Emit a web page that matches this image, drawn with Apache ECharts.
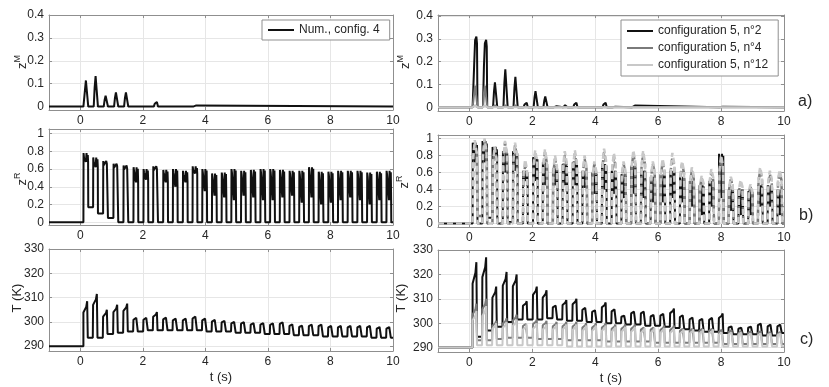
<!DOCTYPE html>
<html>
<head>
<meta charset="utf-8">
<script src="https://cdn.jsdelivr.net/npm/echarts@6/dist/echarts.min.js"></script>
<style>
  html, body { margin: 0; padding: 0; background: #fff; }
  #chart { width: 829px; height: 387px; }
</style>
</head>
<body>
<div id="chart"></div>
<script>
// time of each heating pulse maximum (s)
const peakTimes = [0.22, 0.53, 0.85, 1.18, 1.50, 1.82, 2.14, 2.45, 2.77, 3.08, 3.40, 3.71, 4.02, 4.33, 4.64, 4.95,
  5.26, 5.57, 5.88, 6.19, 6.50, 6.81, 7.12, 7.43, 7.74, 8.05, 8.36, 8.67, 8.98, 9.29, 9.60, 9.91];

// left column : Num., config. 4
const zmCfg4 = [0.12, 0.14, 0.05, 0.065, 0.065, 0, 0, 0.02, 0, 0, 0, 0.005, 0, 0, 0, 0,
  0, 0, 0, 0, 0, 0, 0, 0, 0, 0, 0, 0, 0, 0, 0, 0];
const zrCfg4Peak = [0.78, 0.73, 0.69, 0.66, 0.64, 0.62, 0.60, 0.63, 0.59, 0.60, 0.58, 0.63, 0.60, 0.55, 0.56, 0.60,
  0.58, 0.59, 0.60, 0.60, 0.59, 0.58, 0.58, 0.62, 0.57, 0.57, 0.58, 0.58, 0.58, 0.56, 0.57, 0.58];
const zrCfg4Dip = [0.68, 0.62, 0.66, 0.63, 0.60, 0.45, 0.48, 0.60, 0.45, 0.40, 0.45, 0.55, 0.35, 0.30, 0.28, 0.25,
  0.30, 0.28, 0.25, 0.25, 0.28, 0.30, 0.22, 0.28, 0.20, 0.22, 0.25, 0.28, 0.25, 0.20, 0.25, 0.25];
const zrCfg4Base = [0.17, 0.10, 0.05];
const tCfg4Peak = [308.5, 311.5, 305, 307, 307.5, 302.5, 302.5, 304, 302.5, 302, 302, 303, 302, 301.5, 301, 300.5,
  300.5, 300, 300, 300, 300.5, 299.5, 299, 299.5, 299.5, 299, 299, 299, 299, 299, 298.5, 298.5];
const tCfg4Trough = [293.5, 293.5, 295, 295.5, 296, 296, 296.5, 296.5, 296.5, 296.5, 296.5, 296.5, 296, 296, 296, 295.5,
  295.5, 295.5, 295, 295, 295, 294.5, 294.5, 294.5, 294, 294, 294, 294, 294, 293.5, 293.5, 293.5];

// right column : configuration 5, n°2 / n°4 / n°12
const zmN2 = [0.31, 0.295, 0.115, 0.175, 0.14, 0.02, 0.075, 0.05, 0.005, 0.01, 0.02, 0, 0, 0.02, 0.003, 0,
  0.008, 0, 0, 0, 0, 0, 0, 0, 0, 0.003, 0, 0, 0, 0, 0, 0];
const zmN4 = [0.10, 0.10, 0.01, 0.01, 0.01];
const zmN12 = [0.01, 0.01];
const zrN2Peak = [0.95, 0.97, 0.90, 0.85, 0.85, 0.62, 0.78, 0.72, 0.65, 0.70, 0.72, 0.62, 0.60, 0.70, 0.62, 0.58,
  0.68, 0.62, 0.55, 0.58, 0.62, 0.55, 0.50, 0.45, 0.50, 0.82, 0.40, 0.40, 0.38, 0.45, 0.45, 0.40];
const zrN2Dip = [0.72, 0.72, 0.80, 0.60, 0.62, 0.50, 0.50, 0.45, 0.45, 0.45, 0.45, 0.42, 0.35, 0.40, 0.35, 0.30,
  0.35, 0.30, 0.25, 0.25, 0.30, 0.25, 0.20, 0.10, 0.20, 0.30, 0.15, 0.10, 0.10, 0.20, 0.20, 0.10];
const zrN2Base = [0, 0.07, 0, 0.02];
const zrN4Peak = [0.96, 0.98, 0.88, 0.95, 0.92, 0.68, 0.82, 0.84, 0.76, 0.80, 0.82, 0.76, 0.70, 0.84, 0.78, 0.70,
  0.82, 0.82, 0.70, 0.72, 0.78, 0.70, 0.62, 0.53, 0.60, 0.75, 0.52, 0.48, 0.43, 0.62, 0.58, 0.60];
const zrN4Base = [0.09];
const zrN12Peak = [0.98, 1.00, 0.90, 0.97, 0.95, 0.75, 0.86, 0.87, 0.80, 0.85, 0.86, 0.80, 0.73, 0.88, 0.83, 0.73,
  0.86, 0.85, 0.73, 0.76, 0.83, 0.73, 0.66, 0.56, 0.64, 0.80, 0.55, 0.51, 0.46, 0.66, 0.62, 0.63];
const tN2Peak = [325, 327, 315, 321, 320, 309, 315, 313.5, 308, 309.5, 310, 307, 306, 308.5, 306.5, 303.5,
  305.5, 305.5, 304, 304.5, 306, 304, 303, 302.5, 303, 304, 299, 298.5, 299, 300.5, 300, 300];
const tN2Trough = [294.5, 297, 298.5, 300.5, 301.5, 301.5, 301.5, 302, 301.5, 301, 301, 300.5, 300.5, 300, 300, 299.5,
  299.5, 299, 299, 298.5, 298, 297.5, 297, 296.5, 296.5, 296, 295.5, 295.5, 295.5, 295, 295, 296];
const tN4Peak = [308, 310, 301, 302, 303.5, 300.5, 301.5, 301, 300.5, 300.5, 300.5, 300, 300, 300, 299.5, 299.5,
  299.5, 299, 299, 299, 299, 298.5, 298.5, 298.5, 298.5, 298, 298, 297.5, 297.5, 297.5, 297, 297];
const tN4Trough = [293, 293, 293.5, 294, 294, 294, 293.5, 293.5, 293.5, 293, 293, 293, 293, 292.5, 292.5, 292.5,
  292.5, 292.5, 292, 292, 292, 292, 292, 292, 292, 291.5, 291.5, 291.5, 291.5, 291.5, 291.5, 291.5];
const tN12Peak = [305, 307, 300, 300.5, 301.5, 299.5, 300, 299.5, 299.5, 299.5, 299.5, 299, 299, 299, 298.5, 298.5,
  298.5, 298, 298, 298, 298, 297.5, 297.5, 297.5, 297.5, 297, 297, 297, 296.5, 296.5, 296.5, 296.5];
const tN12Trough = [291, 291, 291, 291, 291, 291, 291, 291, 291, 290.5, 290.5, 290.5, 290.5, 290.5, 290.5, 290.5,
  290.5, 290.5, 290.5, 290.5, 290.5, 290.5, 290.5, 290.5, 290.5, 290.5, 290.5, 290.5, 290.5, 290.5, 290.5, 290.5];

const xTicks = [0, 2, 4, 6, 8, 10];
const zmTicks = [0, 0.1, 0.2, 0.3, 0.4];
const zrTicks = [0, 0.2, 0.4, 0.6, 0.8, 1];
const tTicks = [290, 300, 310, 320, 330];

const legendLeft = ['Num., config. 4'];
const legendRight = ['configuration 5, n°2', 'configuration 5, n°4', 'configuration 5, n°12'];

// ---- build the polylines from the pulse values ----
function at(arr, i) { return i < arr.length ? arr[i] : 0; }

function zmLine(peaks) {
  const pts = [[-1, 0], [0.1, 0]];
  peakTimes.forEach((tp, i) => {
    const p = at(peaks, i);
    if (!p) return;
    pts.push([tp - 0.10, 0], [tp - 0.07, p * 0.6], [tp - 0.04, p * 0.95], [tp, p], [tp + 0.02, p * 0.9], [tp + 0.035, 0]);
  });
  pts.push([10, 0]);
  return pts;
}

function zrNoisy(peaks, dips, base) {
  const pts = [[-1, 0], [0.1, 0]];
  let prev = 0;
  peakTimes.forEach((tp, i) => {
    const s = tp - 0.12, p = peaks[i], d = dips[i];
    const b = at(base, i);
    pts.push([s, prev], [s + 0.005, p], [s + 0.02, p * 0.93], [s + 0.06, p * 0.95], [s + 0.08, d],
      [s + 0.1, p], [s + 0.12, d], [s + 0.14, p * 0.97], [tp + 0.03, d], [tp + 0.035, b]);
    prev = b;
  });
  pts.push([10, prev]);
  return pts;
}

function zrSmooth(peaks, base) {
  const pts = [[-1, 0], [0.1, 0]];
  let prev = 0;
  peakTimes.forEach((tp, i) => {
    const s = tp - 0.12, p = peaks[i];
    const b = at(base, i);
    pts.push([s, prev], [s + 0.02, p * 0.8], [s + 0.07, p], [s + 0.13, p * 0.85], [tp + 0.035, b]);
    prev = b;
  });
  pts.push([10, prev]);
  return pts;
}

function tLine(peaks, troughs) {
  const pts = [[-1, 290], [0.1, 290]];
  let prev = 290;
  peakTimes.forEach((tp, i) => {
    const s = tp - 0.13, p = peaks[i], tr = troughs[i];
    const plat = prev + 0.75 * (p - prev);
    pts.push([s, prev], [s + 0.01, plat], [tp - 0.03, plat + 0.5 * (p - plat)], [tp, p], [tp + 0.02, tr]);
    prev = tr;
  });
  pts.push([10, prev]);
  return pts;
}

// ---- layout ----
const grids = [
  { left: 49, top: 15, width: 344, height: 95 },
  { left: 49, top: 129, width: 344, height: 96 },
  { left: 49, top: 249, width: 344, height: 102 },
  { left: 438, top: 15, width: 346, height: 96 },
  { left: 438, top: 135, width: 346, height: 92 },
  { left: 438, top: 250, width: 346, height: 102 }
];
const yRanges = [[-0.015, 0.4], [-0.03, 1.05], [288, 330], [-0.016, 0.404], [-0.04, 1.04], [288.2, 330]];
const yTickSets = [zmTicks, zrTicks, tTicks, zmTicks, zrTicks, tTicks];
const yNames = ['{z|z}{s|M}', '{z|z}{s|R}', 'T (K)', '{z|z}{s|M}', '{z|z}{s|R}', 'T (K)'];
// centre of each rotated y-axis title
const yNamePos = [[21, 62], [21, 179], [17, 298], [404, 62], [403, 182], [401, 298]];

const axisCol = '#8f8f8f';
const textCol = '#262626';
const font = '"Liberation Sans", Arial, sans-serif';

const xAxis = [], yAxis = [];
grids.forEach((g, i) => {
  const bottom = i === 2 || i === 5;
  xAxis.push({
    type: 'value', gridIndex: i, min: -1, max: 10, position: 'bottom',
    name: bottom ? 't (s)' : '', nameLocation: 'middle', nameGap: 20, nameMoveOverlap: false,
    nameTextStyle: { color: textCol, fontSize: 13, fontFamily: font },
    axisLine: { show: true, onZero: false, lineStyle: { color: axisCol, width: 1 } },
    axisTick: { show: true, inside: true, length: 3, customValues: xTicks, lineStyle: { color: axisCol } },
    axisLabel: { customValues: xTicks, color: textCol, fontSize: 12, fontFamily: font, margin: 5 },
    splitLine: { show: true, lineStyle: { color: '#e6e6e6', width: 1 } }
  });
  xAxis.push({
    type: 'value', gridIndex: i, min: -1, max: 10, position: 'top',
    axisLine: { show: true, onZero: false, lineStyle: { color: axisCol, width: 1 } },
    axisTick: { show: true, inside: true, length: 3, customValues: xTicks, lineStyle: { color: axisCol } },
    axisLabel: { show: false }, splitLine: { show: false }
  });
  const ticks = yTickSets[i];
  yAxis.push({
    type: 'value', gridIndex: i, min: yRanges[i][0], max: yRanges[i][1], position: 'left',
    axisLine: { show: true, onZero: false, lineStyle: { color: axisCol, width: 1 } },
    axisTick: { show: true, inside: true, length: 3, customValues: ticks, lineStyle: { color: axisCol } },
    axisLabel: { customValues: ticks, color: textCol, fontSize: 12, fontFamily: font, margin: 5 },
    splitLine: { show: true, lineStyle: { color: '#e6e6e6', width: 1 } }
  });
  yAxis.push({
    type: 'value', gridIndex: i, min: yRanges[i][0], max: yRanges[i][1], position: 'right',
    axisLine: { show: true, onZero: false, lineStyle: { color: axisCol, width: 1 } },
    axisTick: { show: true, inside: true, length: 3, customValues: ticks, lineStyle: { color: axisCol } },
    axisLabel: { show: false }, splitLine: { show: false }
  });
});

function line(name, gi, data, color, width, dashed) {
  return {
    name, type: 'line', xAxisIndex: 2 * gi, yAxisIndex: 2 * gi, data,
    symbol: 'none', showSymbol: false, silent: true, animation: false,
    lineStyle: { color, width, type: dashed ? [6, 3] : 'solid' },
    itemStyle: { color }
  };
}

const cBlack = '#111111', cGray = '#7a7a7a', cLight = '#c8c8c8';

const series = [
  line(legendRight[0], 3, zmLine(zmN2), cBlack, 2),
  line(legendRight[1], 3, zmLine(zmN4), cGray, 2),
  line(legendRight[2], 3, zmLine(zmN12), cLight, 2),
  line(legendLeft[0], 0, zmLine(zmCfg4), cBlack, 2),
  line(legendLeft[0], 1, zrNoisy(zrCfg4Peak, zrCfg4Dip, zrCfg4Base), cBlack, 2),
  line(legendLeft[0], 2, tLine(tCfg4Peak, tCfg4Trough), cBlack, 2),
  line(legendRight[0], 4, zrNoisy(zrN2Peak, zrN2Dip, zrN2Base), cBlack, 2),
  line(legendRight[1], 4, zrSmooth(zrN4Peak, zrN4Base), cGray, 2.5, true),
  line(legendRight[2], 4, zrSmooth(zrN12Peak, []), cLight, 2.5, true),
  line(legendRight[0], 5, tLine(tN2Peak, tN2Trough), cBlack, 2),
  line(legendRight[1], 5, tLine(tN4Peak, tN4Trough), cGray, 2),
  line(legendRight[2], 5, tLine(tN12Peak, tN12Trough), cLight, 2)
];

const legendCommon = {
  backgroundColor: '#fff', borderColor: '#8f8f8f', borderWidth: 1,
  icon: 'rect', itemWidth: 26, itemHeight: 2, selectedMode: false,
  textStyle: { color: textCol, fontSize: 12, fontFamily: font, lineHeight: 14 }
};

const yTitles = yNames.map((t, i) => ({
  type: 'text', x: yNamePos[i][0], y: yNamePos[i][1], rotation: Math.PI / 2,
  style: {
    text: t, align: 'center', verticalAlign: 'middle', fill: textCol, fontSize: 13, fontFamily: font,
    rich: {
      z: { fontSize: 13, fontFamily: font, fill: textCol, lineHeight: 16, verticalAlign: 'bottom' },
      s: { fontSize: 9, fontFamily: font, fill: textCol, lineHeight: 16, verticalAlign: 'top' }
    }
  }
}));

const option = {
  animation: false,
  grid: grids,
  xAxis, yAxis, series,
  legend: [
    Object.assign({ data: legendLeft, left: 262, top: 20, padding: [3, 10, 3, 6] }, legendCommon),
    Object.assign({ data: legendRight, left: 621, top: 20, orient: 'vertical', itemGap: 3, padding: [4, 10, 4, 6] }, legendCommon)
  ],
  graphic: yTitles.concat([
    { type: 'text', left: 798, top: 94, style: { text: 'a)', fontSize: 16, fontFamily: font, fill: textCol } },
    { type: 'text', left: 799, top: 208, style: { text: 'b)', fontSize: 16, fontFamily: font, fill: textCol } },
    { type: 'text', left: 800, top: 332, style: { text: 'c)', fontSize: 16, fontFamily: font, fill: textCol } }
  ])
};

const chart = echarts.init(document.getElementById('chart'), null, { renderer: 'canvas' });
chart.setOption(option);
</script>
</body>
</html>
